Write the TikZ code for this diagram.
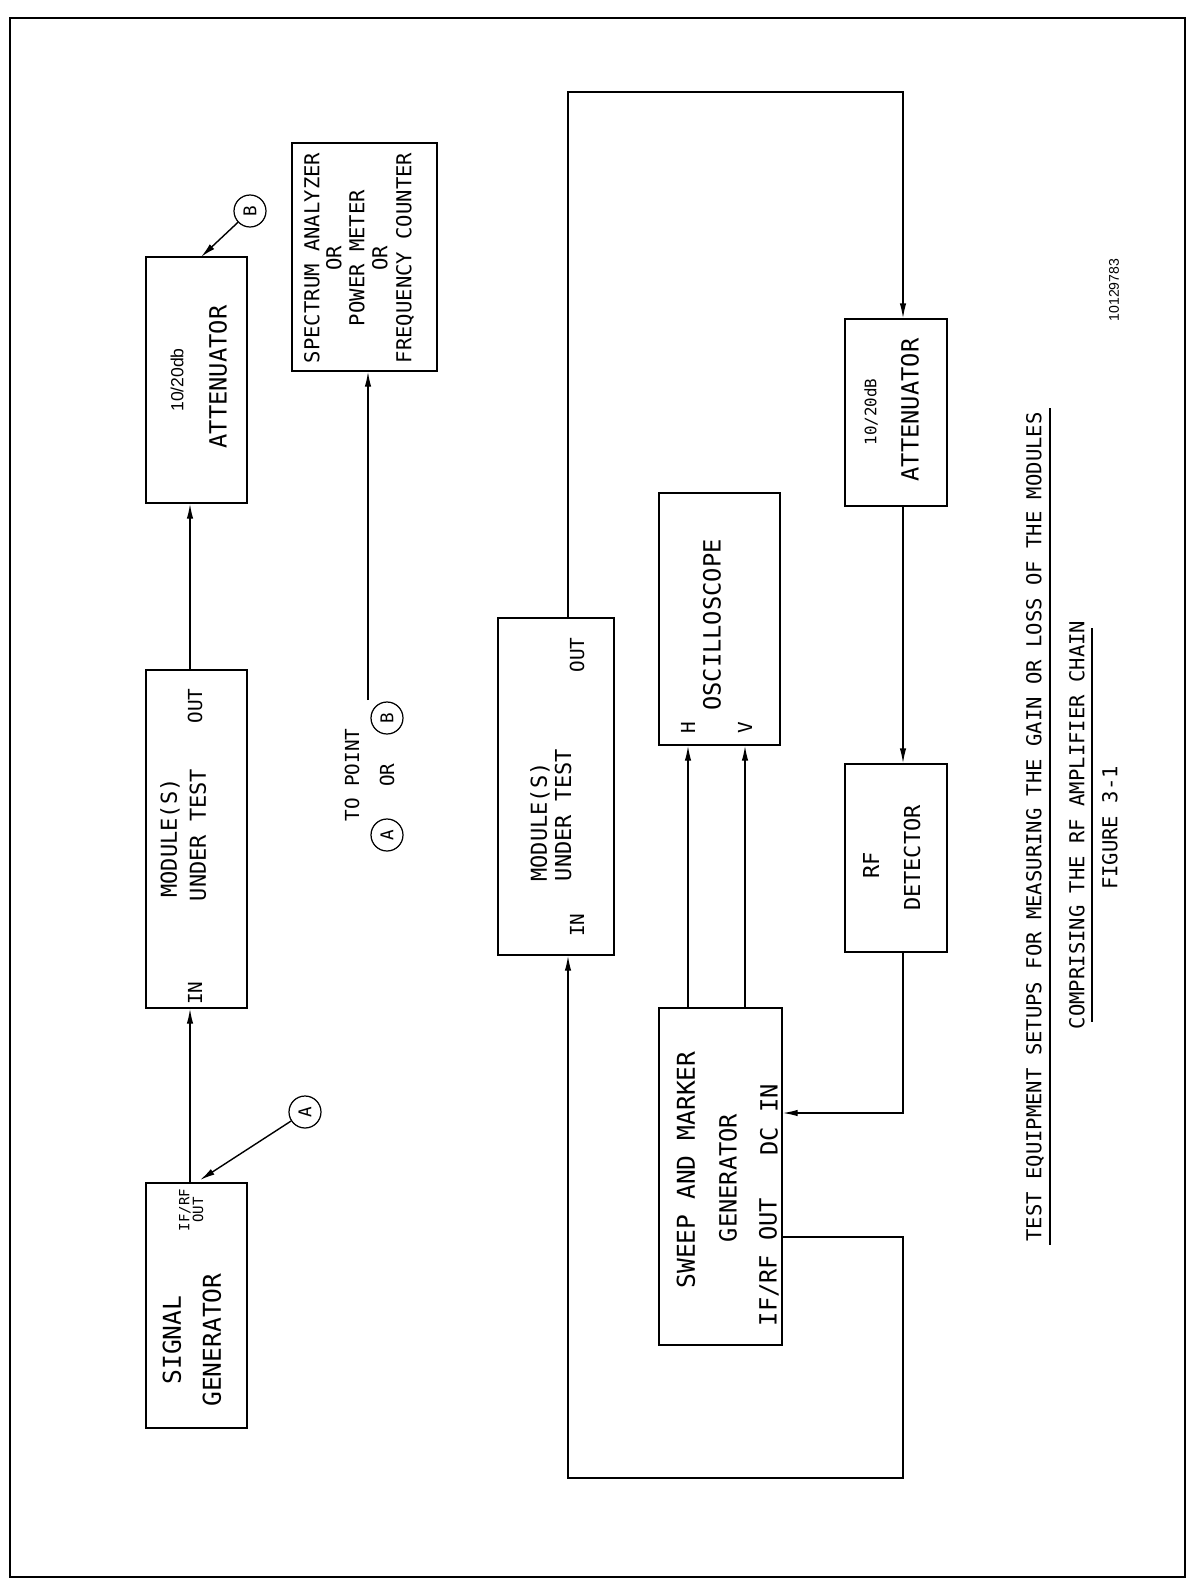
\documentclass[tikz,border=0pt]{standalone}
\usepackage{fontspec}
\newfontfamily\cad{DejaVu Sans Mono}
\newfontfamily\arial{Liberation Sans}
\usetikzlibrary{arrows.meta,fit}
\newcommand{\fs}[1]{\fontsize{#1}{1.13\dimexpr#1\relax}\selectfont}
\begin{document}
\begin{tikzpicture}[x=0.02cm,y=-0.02cm,line width=0.8pt,
  box/.style={draw,rectangle,inner sep=0pt,line width=0.8pt},
  lbl/.style={rotate=90,inner sep=0pt,font=\cad\fs{12.5pt}},
  arr/.style={-{Latex[length=0.3cm,width=0.13cm]}},
  pt/.style={draw,circle,minimum size=0.64cm,inner sep=0pt,line width=0.7pt,font=\cad\fs{10pt},rotate=90}]
\useasboundingbox (0,0) rectangle (1196,1582);
\draw[line width=0.6pt] (10,18) rectangle (1185,1577);

% ---------- upper setup ----------
\node[box,fit={(146,1183) (247,1428)}] (sg) {};
\node[lbl,font=\cad\fs{14pt}] (sgt1) at (172,1340) {SIGNAL};
\node[lbl,font=\cad\fs{14pt}] (sgt2) at (212,1340) {GENERATOR};
\node[lbl,font=\cad\fs{8pt}] (sgt3) at (185,1210) {IF/RF};
\node[lbl,font=\cad\fs{8pt}] (sgt4) at (198,1210) {OUT};

\node[box,fit={(146,670) (247,1008)}] (m1) {};
\node[lbl,font=\cad\fs{12.5pt}] (m1t1) at (170,838) {MODULE(S)};
\node[lbl,font=\cad\fs{12.5pt}] (m1t2) at (198,835) {UNDER TEST};
\node[lbl,font=\cad\fs{11pt}] (m1t3) at (195,706) {OUT};
\node[lbl,font=\cad\fs{11pt}] (m1t4) at (195,993) {IN};

\node[box,fit={(146,257) (247,503)}] (a1) {};
\node[lbl,font=\arial\fs{10pt}] (a1t1) at (177,380) {10/20db};
\node[lbl,font=\cad\fs{13.5pt}] (a1t2) at (218,377) {ATTENUATOR};

\node[box,fit={(292,143) (437,371)}] (sa) {};
\node[lbl,font=\cad\fs{11.7pt}] (sat1) at (312,258) {SPECTRUM ANALYZER};
\node[lbl,font=\cad\fs{11.7pt}] (sat2) at (334,258) {OR};
\node[lbl,font=\cad\fs{11.7pt}] (sat3) at (357,258) {POWER METER};
\node[lbl,font=\cad\fs{11.7pt}] (sat4) at (380,258) {OR};
\node[lbl,font=\cad\fs{11.7pt}] (sat5) at (405,258) {FREQUENCY COUNTER};

\node[pt] (pa1) at (305,1112) {A};
\node[pt] (pb1) at (250,211) {B};
\coordinate (tipa) at (200,1180);
\coordinate (tipb) at (201,257);
\draw[arr] (pa1) -- (tipa);
\draw[arr] (pb1) -- (tipb);

\coordinate (c190) at (190,0);
\draw[arr] (sg.north -| c190) -- (m1.south -| c190);
\draw[arr] (m1.north -| c190) -- (a1.south -| c190);

\node[lbl,font=\cad\fs{11pt}] (tp) at (352,775) {TO POINT};
\node[lbl,font=\cad\fs{11pt}] (tpor) at (387,775) {OR};
\node[pt] (pa2) at (387,835) {A};
\node[pt] (pb2) at (387,718) {B};
\coordinate (saend) at (368,700);
\draw[arr] (saend) -- (sa.south -| saend);

% ---------- lower setup ----------
\node[box,fit={(498,618) (614,955)}] (m2) {};
\node[lbl,font=\cad\fs{12.5pt}] (m2t1) at (540,822) {MODULE(S)};
\node[lbl,font=\cad\fs{12.5pt}] (m2t2) at (563,815) {UNDER TEST};
\node[lbl,font=\cad\fs{11pt}] (m2t3) at (577,655) {OUT};
\node[lbl,font=\cad\fs{11pt}] (m2t4) at (577,925) {IN};

\node[box,fit={(659,493) (780,745)}] (osc) {};
\node[lbl,font=\cad\fs{13.5pt}] (osct) at (712,625) {OSCILLOSCOPE};
\node[lbl,font=\cad\fs{11pt}] (osch) at (688,728) {H};
\node[lbl,font=\cad\fs{11pt}] (oscv) at (745,728) {V};

\node[box,fit={(659,1008) (782,1345)}] (sw) {};
\node[lbl,font=\cad\fs{14pt}] (swt1) at (686,1170) {SWEEP AND MARKER};
\node[lbl,font=\cad\fs{13.5pt}] (swt2) at (728,1178) {GENERATOR};
\node[lbl,font=\cad\fs{13.5pt}] (swt3) at (769,1262) {IF/RF OUT};
\node[lbl,font=\cad\fs{13.5pt}] (swt4) at (769,1120) {DC IN};

\node[box,fit={(845,319) (947,506)}] (a2) {};
\node[lbl,font=\cad\fs{9pt}] (a2t1) at (871,412) {10/20dB};
\node[lbl,font=\cad\fs{13.5pt}] (a2t2) at (910,410) {ATTENUATOR};

\node[box,fit={(845,764) (947,952)}] (rf) {};
\node[lbl,font=\cad\fs{12.5pt}] (rft1) at (871,865) {RF};
\node[lbl,font=\cad\fs{12.5pt}] (rft2) at (912,858) {DETECTOR};

\coordinate (c568) at (568,0);
\coordinate (c903) at (903,0);
\coordinate (ctop) at (0,92);
\coordinate (cbot) at (0,1478);
\coordinate (cdc) at (0,1113);
\coordinate (cif) at (0,1237);
\coordinate (cH) at (688,0);
\coordinate (cV) at (745,0);
\draw[arr] (m2.north -| c568) -- (c568 |- ctop) -- (c903 |- ctop) -- (a2.north -| c903);
\draw[arr] (a2.south -| c903) -- (rf.north -| c903);
\draw[arr] (rf.south -| c903) -- (c903 |- cdc) -- (sw.east |- cdc);
\draw[arr] (sw.east |- cif) -- (c903 |- cif) -- (c903 |- cbot) -- (c568 |- cbot) -- (m2.south -| c568);
\draw[arr] (sw.north -| cH) -- (osc.south -| cH);
\draw[arr] (sw.north -| cV) -- (osc.south -| cV);

% ---------- titles ----------
\node[lbl,font=\cad\fs{11.7pt}] (ti1) at (1035,827) {TEST EQUIPMENT SETUPS FOR MEASURING THE GAIN OR LOSS OF THE MODULES};
\node[lbl,font=\cad\fs{11.7pt}] (ti2) at (1077,825) {COMPRISING THE RF AMPLIFIER CHAIN};
\node[lbl,font=\cad\fs{11.7pt}] (ti3) at (1110,828) {FIGURE 3-1};
\node[lbl,font=\arial\fs{8pt}] (ti4) at (1114,290) {10129783};
\draw[line width=0.7pt] (1050,408) -- (1050,1245);
\draw[line width=0.7pt] (1092,628) -- (1092,1022);
\end{tikzpicture}
\end{document}
